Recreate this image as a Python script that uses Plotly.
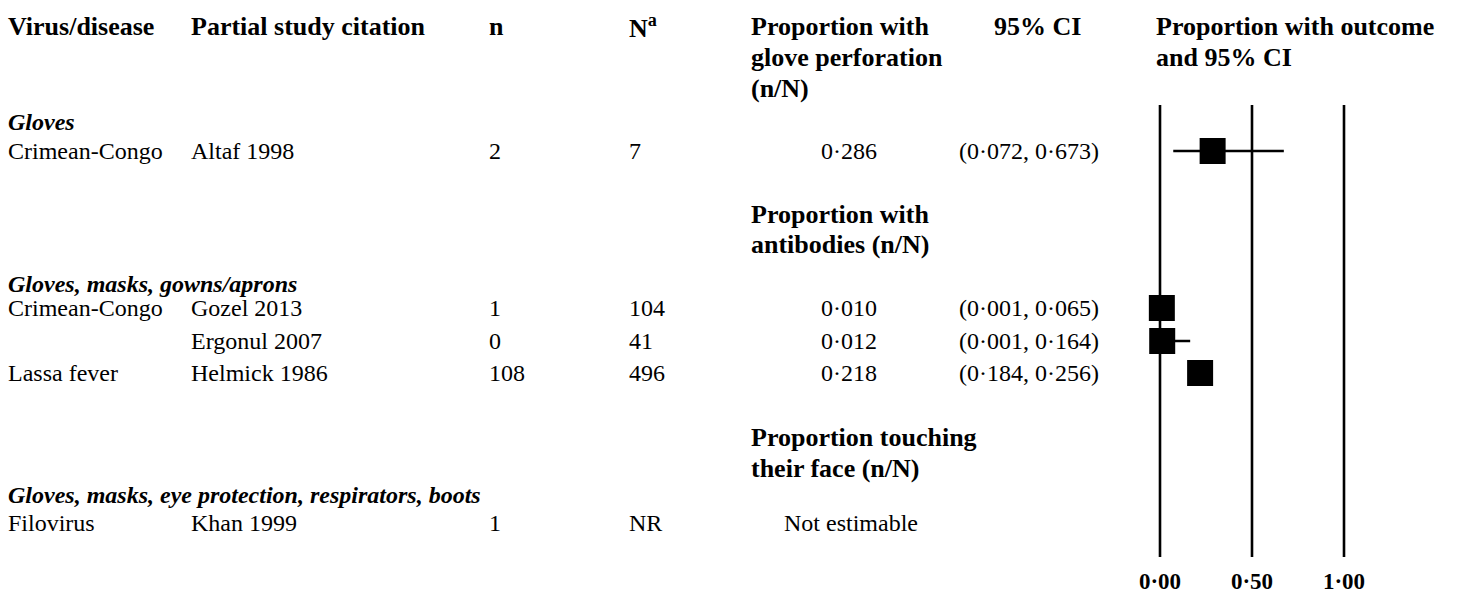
import plotly.graph_objects as go

# ---- data ----
groups = ["Gloves", "Gloves, masks, gowns/aprons",
          "Gloves, masks, eye protection, respirators, boots"]
outcome_headers = [["Proportion with", "glove perforation", "(n/N)"],
                   ["Proportion with", "antibodies (n/N)"],
                   ["Proportion touching", "their face (n/N)"]]
virus_shown = ["Crimean-Congo", "Crimean-Congo", "", "Lassa fever", "Filovirus"]
studies = ["Altaf 1998", "Gozel 2013", "Ergonul 2007", "Helmick 1986", "Khan 1999"]
n_vals = ["2", "1", "0", "108", "1"]
N_vals = ["7", "104", "41", "496", "NR"]
proportion = [0.286, 0.010, 0.012, 0.218, None]
ci_low = [0.072, 0.001, 0.001, 0.184, None]
ci_high = [0.673, 0.065, 0.164, 0.256, None]
ref_lines = [0.0, 0.5, 1.0]
tick_labels = ["0·00", "0·50", "1·00"]

# ---- layout constants (pixels) ----
W, H = 1458, 593
PLOT_H = 557            # plot area height; bottom margin holds the tick labels
FONT = "Liberation Serif, Times New Roman, serif"
HEAD_SIZE = 26
GROUP_SIZE = 24
BODY_SIZE = 24
X0_PX, UNIT_PX = 1160, 184          # where 0 sits and width of one unit on the scale
ROW_Y = [151, 308, 341, 373, 523]   # row centres
GROUP_Y = [122, 284, 495]
OUTCOME_Y = [[26, 57.5, 89], [214, 245], [437, 468]]
LINE_TOP = 105
PAD = 3                             # annotation box padding on the left

COL_VIRUS, COL_STUDY, COL_n, COL_N = 9, 192, 490, 630
COL_PROP_HEAD, COL_PROP_MID, COL_CI_MID, COL_PLOT = 752, 849, 1029, 1157


def fmt(v):
    return f"{v:.3f}".replace(".", "·")


def px(x):
    return x / W


def py(y):
    return 1 - y / PLOT_H


annotations = []


def text(x, y, s, size=BODY_SIZE, anchor="left"):
    if anchor == "left":
        x -= PAD
    annotations.append(dict(
        x=px(x), y=py(y), xref="paper", yref="paper", text=s,
        showarrow=False, xanchor=anchor, yanchor="middle",
        font=dict(family=FONT, size=size, color="#000000"),
    ))


# column headers
text(COL_VIRUS, 26, "<b>Virus/disease</b>", HEAD_SIZE)
text(COL_STUDY, 26, "<b>Partial study citation</b>", HEAD_SIZE)
text(COL_n, 26, "<b>n</b>", HEAD_SIZE)
text(COL_N, 26, "<b>N<sup>a</sup></b>", HEAD_SIZE)
text(995, 26, "<b>95% CI</b>", HEAD_SIZE)
text(COL_PLOT, 26, "<b>Proportion with outcome</b>", HEAD_SIZE)
text(COL_PLOT, 57.5, "<b>and 95% CI</b>", HEAD_SIZE)

# outcome headers within the proportion column
for lines, ys in zip(outcome_headers, OUTCOME_Y):
    for line, y in zip(lines, ys):
        text(COL_PROP_HEAD, y, f"<b>{line}</b>", HEAD_SIZE)

# intervention groups
for g, y in zip(groups, GROUP_Y):
    text(COL_VIRUS, y, f"<b><i>{g}</i></b>", GROUP_SIZE)

# study rows
for i, y in enumerate(ROW_Y):
    if virus_shown[i]:
        text(COL_VIRUS, y, virus_shown[i])
    text(COL_STUDY, y, studies[i])
    text(COL_n, y, n_vals[i])
    text(COL_N, y, N_vals[i])
    if proportion[i] is None:
        text(COL_PROP_MID + 2, y, "Not estimable", anchor="center")
    else:
        text(COL_PROP_MID, y, fmt(proportion[i]), anchor="center")
        text(COL_CI_MID, y, f"({fmt(ci_low[i])}, {fmt(ci_high[i])})", anchor="center")

fig = go.Figure()

# reference lines at 0, 0.5 and 1
ref_x, ref_y = [], []
for v in ref_lines:
    ref_x += [v, v, None]
    ref_y += [LINE_TOP, PLOT_H, None]
fig.add_trace(go.Scatter(x=ref_x, y=ref_y, mode="lines",
                         line=dict(color="#000000", width=2.6),
                         hoverinfo="skip", showlegend=False))

# point estimates with confidence intervals
est = [(p, lo, hi, y) for p, lo, hi, y in zip(proportion, ci_low, ci_high, ROW_Y) if p is not None]
fig.add_trace(go.Scatter(
    x=[e[0] for e in est], y=[e[3] for e in est], mode="markers",
    marker=dict(symbol="square", size=26, color="#000000", line=dict(width=0)),
    error_x=dict(type="data", symmetric=False,
                 array=[e[2] - e[0] for e in est],
                 arrayminus=[e[0] - e[1] for e in est],
                 thickness=2.5, width=0, color="#000000"),
    showlegend=False, hoverinfo="skip",
))

fig.update_layout(
    width=W, height=H,
    margin=dict(l=0, r=0, t=0, b=H - PLOT_H, pad=0),
    paper_bgcolor="#ffffff", plot_bgcolor="#ffffff",
    annotations=annotations,
    xaxis=dict(range=[-X0_PX / UNIT_PX, (W - X0_PX) / UNIT_PX],
               tickvals=ref_lines, ticktext=tick_labels, ticks="",
               showgrid=False, zeroline=False, showline=False,
               tickfont=dict(family=FONT, size=23, color="#000000", weight="bold"),
               ticklabelstandoff=8, fixedrange=True),
    yaxis=dict(range=[PLOT_H, 0], visible=False, showgrid=False,
               zeroline=False, fixedrange=True),
)

fig.write_html("out.html")
